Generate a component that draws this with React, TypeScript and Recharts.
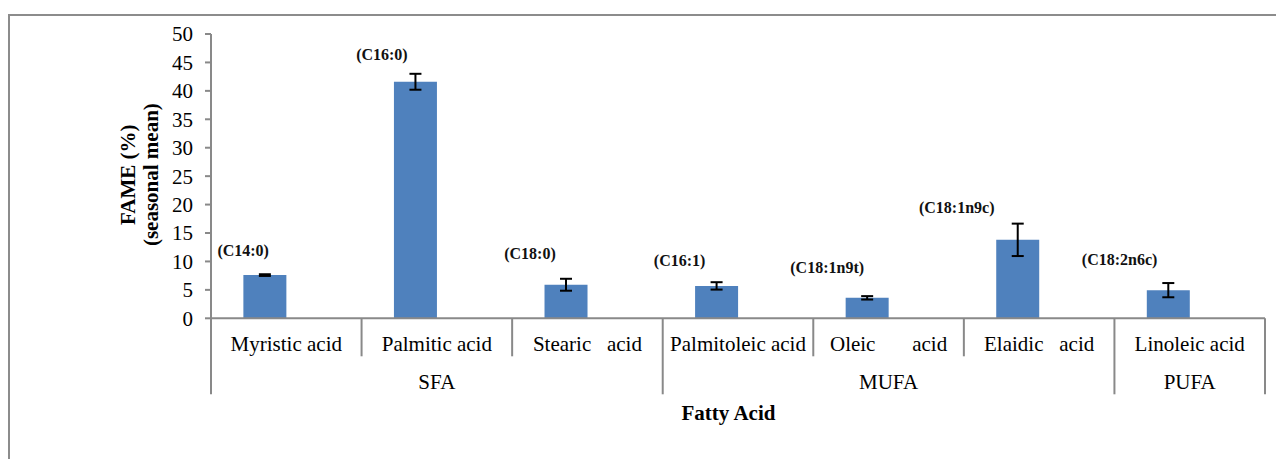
import React from 'react';
import { BarChart, Bar, XAxis, YAxis, ErrorBar, LabelList } from 'recharts';

// Seasonal mean FAME composition (%) per fatty acid, with error bars
const categories = [
  'Myristic acid',
  'Palmitic acid',
  'Stearic   acid',
  'Palmitoleic acid',
  'Oleic       acid',
  'Elaidic   acid',
  'Linoleic acid',
];
const groups = ['SFA', 'SFA', 'SFA', 'MUFA', 'MUFA', 'MUFA', 'PUFA'];
const codes = ['(C14:0)', '(C16:0)', '(C18:0)', '(C16:1)', '(C18:1n9t)', '(C18:1n9c)', '(C18:2n6c)'];
const means = [7.6, 41.6, 5.9, 5.7, 3.6, 13.8, 4.95];
const errors = [0.15, 1.4, 1.05, 0.65, 0.3, 2.85, 1.25];
const yTicks = [0, 5, 10, 15, 20, 25, 30, 35, 40, 45, 50];

// hand-placed offsets (dx, dy) of each code label from its bar's top centre
const labelNudge: [number, number][] = [
  [-21.7, -19.5],
  [-33.5, -21.8],
  [-36, -25.5],
  [-37, -19.8],
  [-40, -25.2],
  [-61, -27.2],
  [-48.7, -25.5],
];

const data = categories.map((name, i) => ({
  name,
  group: groups[i],
  code: codes[i],
  mean: means[i],
  err: errors[i],
  blank: null as number | null,
}));

const W = 1276;
const H = 459;
const SERIF = '"Liberation Serif", "Times New Roman", Times, serif';
const AXIS = '#898989';
const BAR = '#4F81BD';

function CategoryTick(props: any) {
  const { x, y, payload, index, width } = props;
  const n = categories.length;
  const band = width / n;
  const left = x - band / 2;
  const groupStart = index === 0 || groups[index] !== groups[index - 1];
  let groupLen = 0;
  if (groupStart) {
    for (let j = index; j < n && groups[j] === groups[index]; j++) groupLen++;
  }
  return (
    <g>
      <line x1={left} x2={left} y1={y} y2={y + (groupStart ? 76 : 38)} stroke={AXIS} strokeWidth={2} />
      {index === n - 1 && (
        <line x1={left + band} x2={left + band} y1={y} y2={y + 76} stroke={AXIS} strokeWidth={2} />
      )}
      <text
        x={x}
        y={y + 32.4}
        textAnchor="middle"
        fontFamily={SERIF}
        fontSize={21}
        fill="#000"
        style={{ whiteSpace: 'pre' }}
      >
        {payload.value}
      </text>
      {groupStart && (
        <text
          x={left + (groupLen * band) / 2}
          y={y + 71}
          textAnchor="middle"
          fontFamily={SERIF}
          fontSize={21}
          fill="#000"
        >
          {groups[index]}
        </text>
      )}
    </g>
  );
}

function XTitle(props: any) {
  const vb = props.viewBox || props;
  return (
    <text
      x={vb.x + vb.width / 2 - 9.5}
      y={vb.y + 101.7}
      textAnchor="middle"
      fontFamily={SERIF}
      fontWeight="bold"
      fontSize={21}
      fill="#000"
    >
      Fatty Acid
    </text>
  );
}

function YTitle(props: any) {
  const vb = props.viewBox || props;
  const cy = vb.y + vb.height / 2 - 1.5;
  return (
    <g fontFamily={SERIF} fontWeight="bold" fontSize={21} fill="#000">
      <text transform={`translate(${vb.x + 4},${cy}) rotate(-90)`} textAnchor="middle">
        FAME (%)
      </text>
      <text transform={`translate(${vb.x + 27},${cy}) rotate(-90)`} textAnchor="middle">
        (seasonal mean)
      </text>
    </g>
  );
}

function CodeLabel(props: any) {
  const vb = props.viewBox || props;
  const index = props.index ?? 0;
  const [dx, dy] = labelNudge[index] || [0, 0];
  const x = vb.x + vb.width / 2 + dx;
  const top = Math.min(vb.y, vb.y + vb.height);
  return (
    <text
      x={x}
      y={top + dy}
      textAnchor="middle"
      fontFamily={SERIF}
      fontWeight="bold"
      fontSize={16}
      fill="#111"
    >
      {props.value}
    </text>
  );
}

export default function App() {
  return (
    <div
      style={{
        position: 'absolute',
        left: 0,
        top: 0,
        width: W,
        height: H,
        overflow: 'hidden',
        background: '#fff',
      }}
    >
      <div
        style={{
          position: 'absolute',
          left: 8,
          top: 14,
          width: W + 20,
          height: H + 20,
          border: '2px solid #8c8c8c',
          boxSizing: 'border-box',
        }}
      />
      <div style={{ position: 'absolute', left: 0, top: 0 }}>
        <BarChart
          width={W}
          height={H}
          data={data}
          margin={{ top: 34, right: 11, bottom: 64.7, left: 131 }}
          barCategoryGap="21.5%"
          barGap={0}
        >
          <XAxis
            dataKey="name"
            height={76}
            interval={0}
            tickSize={0}
            tickMargin={0}
            tickLine={false}
            axisLine={{ stroke: AXIS, strokeWidth: 2 }}
            tick={<CategoryTick />}
            label={{ content: XTitle }}
          />
          <YAxis
            type="number"
            domain={[0, 50]}
            ticks={yTicks}
            interval={0}
            width={80}
            tickSize={6}
            tickMargin={12}
            axisLine={{ stroke: AXIS, strokeWidth: 2 }}
            tickLine={{ stroke: AXIS, strokeWidth: 2 }}
            tick={{ fill: '#000', fontSize: 21, fontFamily: SERIF }}
            label={{ content: YTitle }}
          />
          <Bar dataKey="mean" fill={BAR} isAnimationActive={false}>
            <ErrorBar dataKey="err" direction="y" width={6} strokeWidth={2} stroke="#000" />
            <LabelList dataKey="code" content={CodeLabel} />
          </Bar>
          <Bar dataKey="blank" fill={BAR} isAnimationActive={false} />
        </BarChart>
      </div>
    </div>
  );
}
